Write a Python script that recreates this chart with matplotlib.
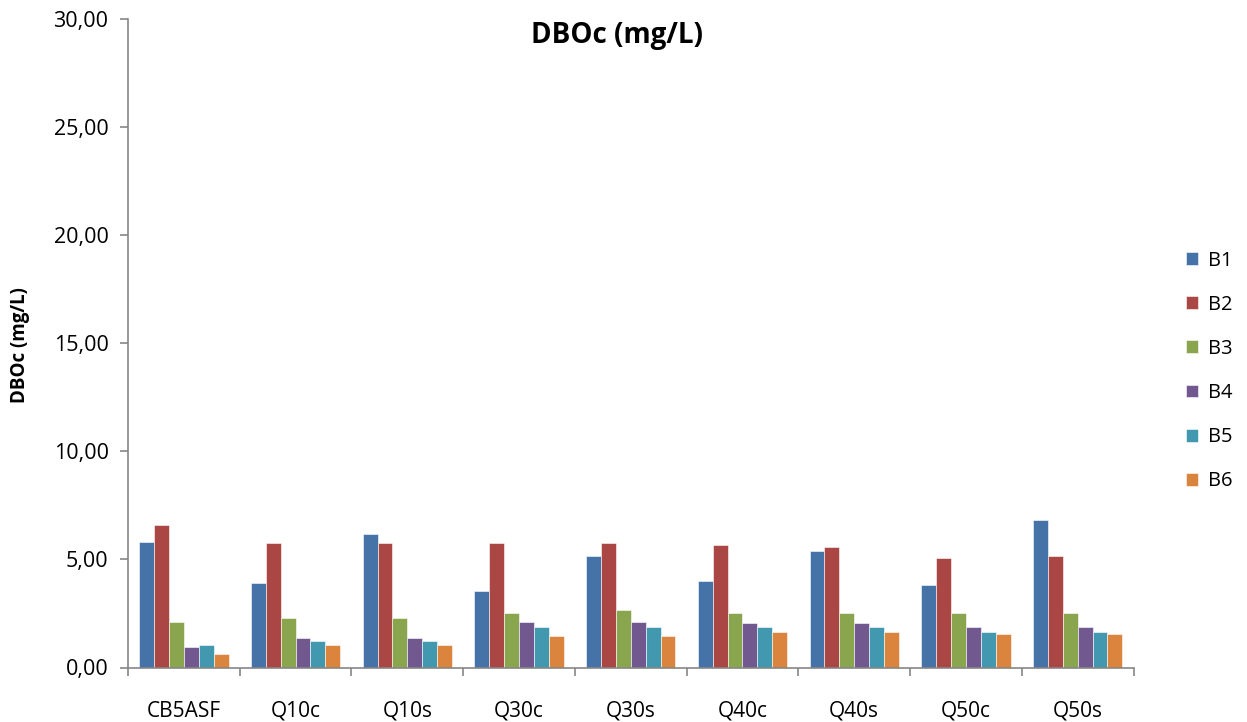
import matplotlib
matplotlib.use("Agg")
import matplotlib.pyplot as plt
from matplotlib.ticker import FuncFormatter, FixedLocator
import numpy as np

plt.rcParams['font.family'] = ['Open Sans', 'DejaVu Sans']

# data
categories = ['CB5ASF', 'Q10c', 'Q10s', 'Q30c', 'Q30s', 'Q40c', 'Q40s', 'Q50c', 'Q50s']
series_names = ['B1', 'B2', 'B3', 'B4', 'B5', 'B6']
b1 = [5.82, 3.90, 6.18, 3.56, 5.16, 4.00, 5.41, 3.80, 6.83]
b2 = [6.60, 5.75, 5.75, 5.75, 5.75, 5.67, 5.58, 5.07, 5.16]
b3 = [2.12, 2.29, 2.29, 2.54, 2.65, 2.54, 2.54, 2.54, 2.54]
b4 = [0.95, 1.38, 1.38, 2.12, 2.12, 2.04, 2.04, 1.87, 1.87]
b5 = [1.04, 1.21, 1.21, 1.87, 1.87, 1.87, 1.87, 1.63, 1.63]
b6 = [0.62, 1.04, 1.04, 1.46, 1.46, 1.63, 1.63, 1.54, 1.54]
values = [b1, b2, b3, b4, b5, b6]
colors = ['#4572A7', '#AA4643', '#89A54E', '#71588F', '#4198AF', '#DB843D']

W, H = 1247, 722
fig = plt.figure(figsize=(W / 100, H / 100), dpi=100)
ax = fig.add_axes([128 / W, (H - 667.5) / H, (1133.5 - 128) / W, (667.5 - 19) / H])

x = np.arange(len(categories))
bw = 1 / 7.5
for i, (name, vals) in enumerate(zip(series_names, values)):
    ax.bar(x + (i - 2.5) * bw, vals, width=bw, color=colors[i], label=name,
           edgecolor='white', linewidth=0.4)

ax.set_xlim(-0.5, len(categories) - 0.5)
ax.set_ylim(0, 30)
ax.set_yticks(np.arange(0, 31, 5))
ax.yaxis.set_major_formatter(FuncFormatter(lambda v, p: f"{v:.2f}".replace('.', ',')))

ax.set_xticks(x)
ax.set_xticklabels(categories)
ax.xaxis.set_minor_locator(FixedLocator(np.arange(-0.5, len(categories), 1)))
ax.tick_params(axis='x', which='major', length=0, pad=24, labelsize=15)
ax.tick_params(axis='x', which='minor', length=6, color='#868686', width=1.2)
ax.tick_params(axis='y', length=6, color='#868686', width=1.2, labelsize=15.5, pad=8)

for s in ['top', 'right']:
    ax.spines[s].set_visible(False)
for s in ['left', 'bottom']:
    ax.spines[s].set_color('#868686')
    ax.spines[s].set_linewidth(1.2)

fig.text(617 / W, 1 - 35 / H, 'DBOc (mg/L)', ha='center', va='center',
         fontsize=20, fontweight='bold')
fig.text(20 / W, 1 - 345 / H, 'DBOc (mg/L)', ha='center', va='center',
         rotation=90, fontsize=13.5, fontweight='bold')

fig.legend(loc='center left', bbox_to_anchor=(1178 / W, 1 - 371 / H), frameon=False,
           fontsize=14.5, handlelength=0.6, handleheight=0.6, labelspacing=1.2,
           handletextpad=0.5, borderaxespad=0)

fig.savefig('out.png', dpi=100)
